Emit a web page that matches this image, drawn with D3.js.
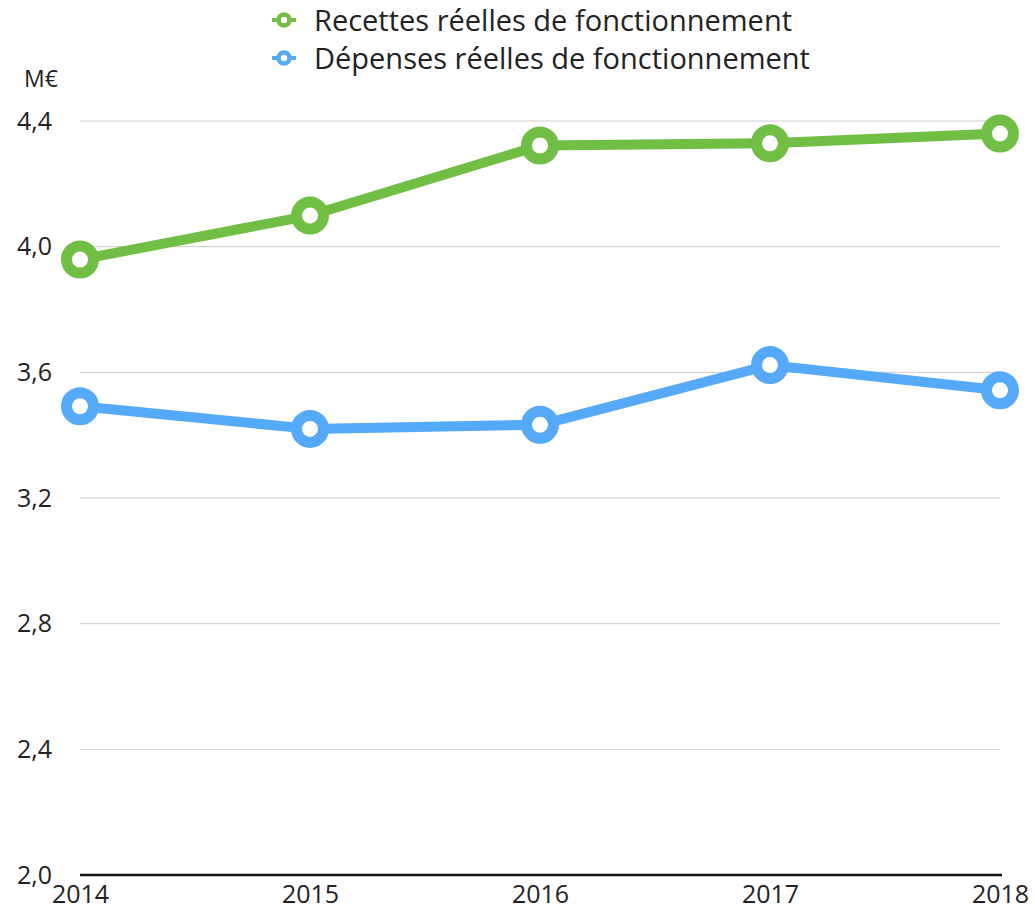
<!DOCTYPE html>
<html><head><meta charset="utf-8">
<script src="https://cdn.jsdelivr.net/npm/d3@7"></script>
<style>body{margin:0;background:#fff;} svg{display:block;font-family:"Open Sans",sans-serif;}</style>
</head><body>
<svg id="c" width="1035" height="916"></svg>
<script>
const years = ["2014","2015","2016","2017","2018"];
const recettes = [3.959, 4.099, 4.322, 4.329, 4.360];
const depenses = [3.492, 3.420, 3.433, 3.623, 3.543];
const yTicks = [2.0, 2.4, 2.8, 3.2, 3.6, 4.0, 4.4];
const seriesNames = ["Recettes réelles de fonctionnement", "Dépenses réelles de fonctionnement"];
const colors = ["#70be44", "#55a9f9"];
const unitLabel = "M€";

const svg = d3.select("#c");
const x = d3.scalePoint().domain(years).range([80, 1000]);
const y = d3.scaleLinear().domain([2.0, 4.4]).range([875, 121]);
const fmt = v => d3.format(".1f")(v).replace(".", ",");

// gridlines
svg.append("g").selectAll("line").data(yTicks.slice(1)).join("line")
  .attr("x1", 80).attr("x2", 1000)
  .attr("y1", d => y(d)).attr("y2", d => y(d))
  .attr("stroke", "#cccccc").attr("stroke-width", 1);

// y axis labels
const yAxis = svg.append("g").attr("transform", "translate(52,0)")
  .call(d3.axisLeft(y).tickValues(yTicks).tickFormat(fmt).tickSize(0).tickPadding(0));
yAxis.select(".domain").remove();
yAxis.selectAll("text").attr("font-size", 25).attr("fill", "#222").attr("font-family", "Open Sans");

// baseline
svg.append("line").attr("x1", 80).attr("x2", 1002).attr("y1", y(2.0)).attr("y2", y(2.0))
  .attr("stroke", "#111").attr("stroke-width", 2.5);

// x axis labels
const xAxis = svg.append("g").attr("transform", `translate(0,${y(2.0)})`)
  .call(d3.axisBottom(x).tickSize(0).tickPadding(10));
xAxis.select(".domain").remove();
xAxis.selectAll("text").attr("font-size", 25).attr("fill", "#222").attr("font-family", "Open Sans");

// unit
svg.append("text").attr("x", 24).attr("y", 87).attr("font-size", 23).attr("fill", "#222").text(unitLabel);

const data = [recettes, depenses];
const line = d3.line().x((d, i) => x(years[i])).y(d => y(d));
data.forEach((vals, k) => {
  svg.append("path").attr("d", line(vals)).attr("fill", "none")
    .attr("stroke", colors[k]).attr("stroke-width", 10).attr("stroke-linejoin", "round");
  svg.append("g").selectAll("circle").data(vals).join("circle")
    .attr("cx", (d, i) => x(years[i])).attr("cy", d => y(d)).attr("r", 13.5)
    .attr("fill", "#fff").attr("stroke", colors[k]).attr("stroke-width", 11);
});

// legend
const leg = svg.append("g");
seriesNames.forEach((name, k) => {
  const cy = 20 + k * 38;
  leg.append("line").attr("x1", 272).attr("x2", 296).attr("y1", cy).attr("y2", cy)
    .attr("stroke", colors[k]).attr("stroke-width", 4);
  leg.append("circle").attr("cx", 284).attr("cy", cy).attr("r", 5.5)
    .attr("fill", "#fff").attr("stroke", colors[k]).attr("stroke-width", 4.5);
  leg.append("text").attr("x", 314).attr("y", cy + 11).attr("font-size", 29)
    .attr("fill", "#222").text(name);
});
</script>
</body></html>
